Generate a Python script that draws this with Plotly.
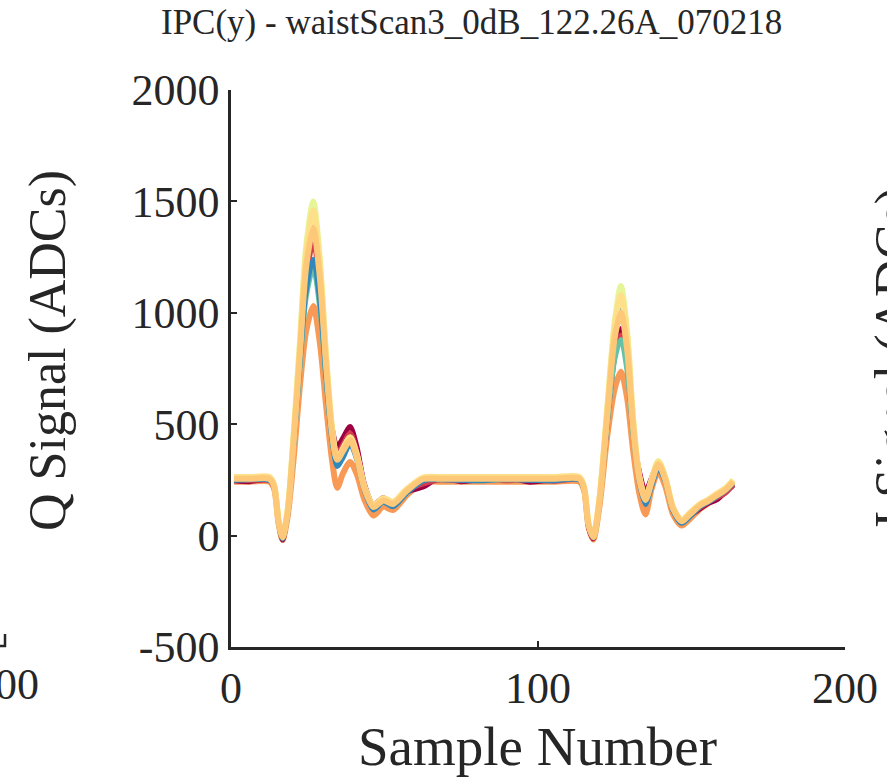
import plotly.graph_objects as go

# Shared sample positions (Sample Number)
sample_x = [1, 6, 12.5, 14, 15.5, 16.8, 18.5, 20.5, 22.5, 24.5, 26.8, 29, 31, 33, 34.6, 36.5, 38.8, 41, 43.5, 46.4,
            49.6, 52.8, 57.2, 62.6, 68, 75, 82, 90, 97, 105, 113.5, 115, 116.5, 118, 120, 122.5, 125, 127, 129, 131,
            133, 135, 137, 139.2, 141.5, 144, 146.8, 149.5, 152.8, 155.5, 158.2, 161, 163.6]

dark_red = [246, 242, 250, 215, 55, -20, 105, 440, 830, 1200, 1430, 1180, 780, 480, 400, 440, 490, 400, 230, 140,
            170, 150, 195, 218, 260, 242, 255, 262, 240, 250, 256, 205, 35, -15, 145, 500, 820, 930, 780, 470,
            290, 200, 260, 330, 260, 120, 60, 90, 120, 145, 160, 195, 225]
red = [254, 248, 246, 218, 58, -12, 100, 430, 800, 1140, 1320, 1110, 740, 450, 370, 410, 460, 380, 215, 130,
       160, 140, 200, 232, 250, 246, 258, 246, 252, 244, 250, 208, 38, -12, 150, 495, 800, 900, 760, 460,
       280, 190, 250, 320, 255, 115, 58, 88, 125, 150, 170, 190, 230]
blue = [248, 252, 248, 220, 60, -15, 100, 420, 780, 1100, 1240, 1040, 700, 420, 310, 350, 410, 340, 200, 115,
        150, 130, 190, 246, 252, 248, 246, 254, 248, 246, 250, 210, 40, -10, 150, 520, 900, 1045, 860, 500,
        240, 140, 220, 300, 240, 110, 55, 85, 130, 150, 175, 200, 235]
teal = [251, 251, 251, 222, 62, -10, 105, 420, 760, 1070, 1200, 1010, 690, 420, 320, 365, 420, 345, 205, 125,
        155, 140, 195, 251, 251, 251, 251, 251, 251, 251, 251, 212, 45, -8, 150, 490, 790, 880, 740, 450,
        250, 155, 235, 315, 250, 120, 62, 92, 135, 155, 178, 205, 240]
light_green = [260, 260, 260, 228, 66, -5, 120, 470, 880, 1300, 1500, 1230, 800, 470, 345, 390, 440, 360, 215, 135,
               165, 150, 205, 258, 260, 260, 260, 260, 260, 260, 260, 216, 50, -5, 160, 560, 960, 1120, 920, 520,
               265, 165, 250, 335, 260, 125, 68, 100, 140, 160, 185, 210, 248]
yellow = [263, 263, 263, 230, 68, 0, 118, 462, 860, 1270, 1460, 1200, 790, 465, 345, 390, 440, 362, 218, 138,
          168, 152, 208, 260, 263, 263, 263, 263, 263, 263, 263, 220, 52, 0, 162, 555, 940, 1080, 900, 515,
          262, 165, 248, 332, 258, 126, 70, 102, 142, 162, 188, 212, 250]
light_orange = [255, 255, 255, 222, 62, -8, 110, 445, 830, 1210, 1380, 1150, 760, 450, 340, 380, 428, 350, 210, 128,
                158, 142, 200, 254, 255, 255, 255, 255, 255, 255, 255, 212, 46, -6, 155, 530, 890, 1000, 840, 485,
                255, 160, 240, 320, 250, 120, 64, 96, 136, 156, 180, 205, 242]
orange = [242, 242, 242, 213, 54, -20, 90, 360, 680, 920, 1030, 860, 580, 330, 215, 280, 330, 275, 160, 90,
          130, 115, 180, 240, 242, 242, 242, 242, 242, 242, 242, 203, 35, -18, 130, 440, 660, 735, 620, 380,
          190, 95, 210, 285, 220, 95, 45, 75, 120, 145, 170, 195, 232]

# drawing order (last on top), colour, line width
series = [
    (orange, "#f89a55", 6),
    (dark_red, "#9e0142", 5),
    (red, "#d53e4f", 5),
    (teal, "#66c2a5", 5),
    (light_green, "#e6f598", 6),
    (blue, "#3288bd", 5),
    (yellow, "#fee08b", 6),
    (light_orange, "#fdc878", 6),
]

x_ticks = [0, 100, 200]
y_ticks = [-500, 0, 500, 1000, 1500, 2000]
y_tick_text = ["-500", "0", "500", "1000", "1500", "2000"]

W, H = 887, 779
FONT = "Liberation Serif"
INK = "#262626"

def px(x):
    return x / W

def py(y):
    return 1 - y / H

fig = go.Figure()
for vals, col, lw in series:
    fig.add_trace(go.Scatter(x=sample_x, y=vals, mode="lines",
                             line=dict(color=col, width=lw, shape="spline", smoothing=0.8),
                             showlegend=False, hoverinfo="skip"))

fig.update_layout(
    width=W, height=H,
    margin=dict(l=0, r=0, t=0, b=0, autoexpand=False),
    paper_bgcolor="white", plot_bgcolor="white",
    font=dict(family=FONT, color=INK),
    xaxis=dict(domain=[px(231), px(845)], range=[0, 200], tickvals=x_ticks, automargin=False,
               showgrid=False, zeroline=False, showline=True, linecolor=INK, linewidth=2.5,
               ticks="inside", ticklen=6, tickwidth=2, tickcolor=INK,
               tickfont=dict(size=44, family=FONT, color=INK), anchor="y"),
    yaxis=dict(domain=[py(647), py(90)], range=[-500, 2000], tickvals=y_ticks, ticktext=y_tick_text,
               automargin=False,
               showgrid=False, zeroline=False, showline=True, linecolor=INK, linewidth=2.5,
               ticks="inside", ticklen=6, tickwidth=2, tickcolor=INK,
               tickfont=dict(size=44, family=FONT, color=INK), anchor="x"),
)

anns = [
    dict(text="IPC(y) - waistScan3_0dB_122.26A_070218", x=px(471), y=py(22), size=35, angle=0),
    dict(text="Sample Number", x=px(537), y=py(746), size=55, angle=0),
    dict(text="Q Signal (ADCs)", x=px(48), y=py(351), size=52, angle=-90),
    dict(text="I Signal (ADCs)", x=px(894), y=py(358), size=52, angle=-90),
]
for a in anns:
    fig.add_annotation(text=a["text"], x=a["x"], y=a["y"], xref="paper", yref="paper",
                       showarrow=False, textangle=a["angle"], xanchor="center", yanchor="middle",
                       font=dict(size=a["size"], family=FONT, color=INK))
# neighbouring panel's x tick label, cut by the left edge
fig.add_annotation(text="200", x=px(41), y=py(684), xref="paper", yref="paper", showarrow=False,
                   xanchor="right", yanchor="middle", font=dict(size=44, family=FONT, color=INK))
# neighbouring panel's axis corner
fig.add_shape(type="line", xref="paper", yref="paper", x0=0, x1=px(6), y0=py(646), y1=py(646),
              line=dict(color=INK, width=2.5))
fig.add_shape(type="line", xref="paper", yref="paper", x0=px(5), x1=px(5), y0=py(647), y1=py(634),
              line=dict(color=INK, width=2.5))

fig.write_html("out.html")
